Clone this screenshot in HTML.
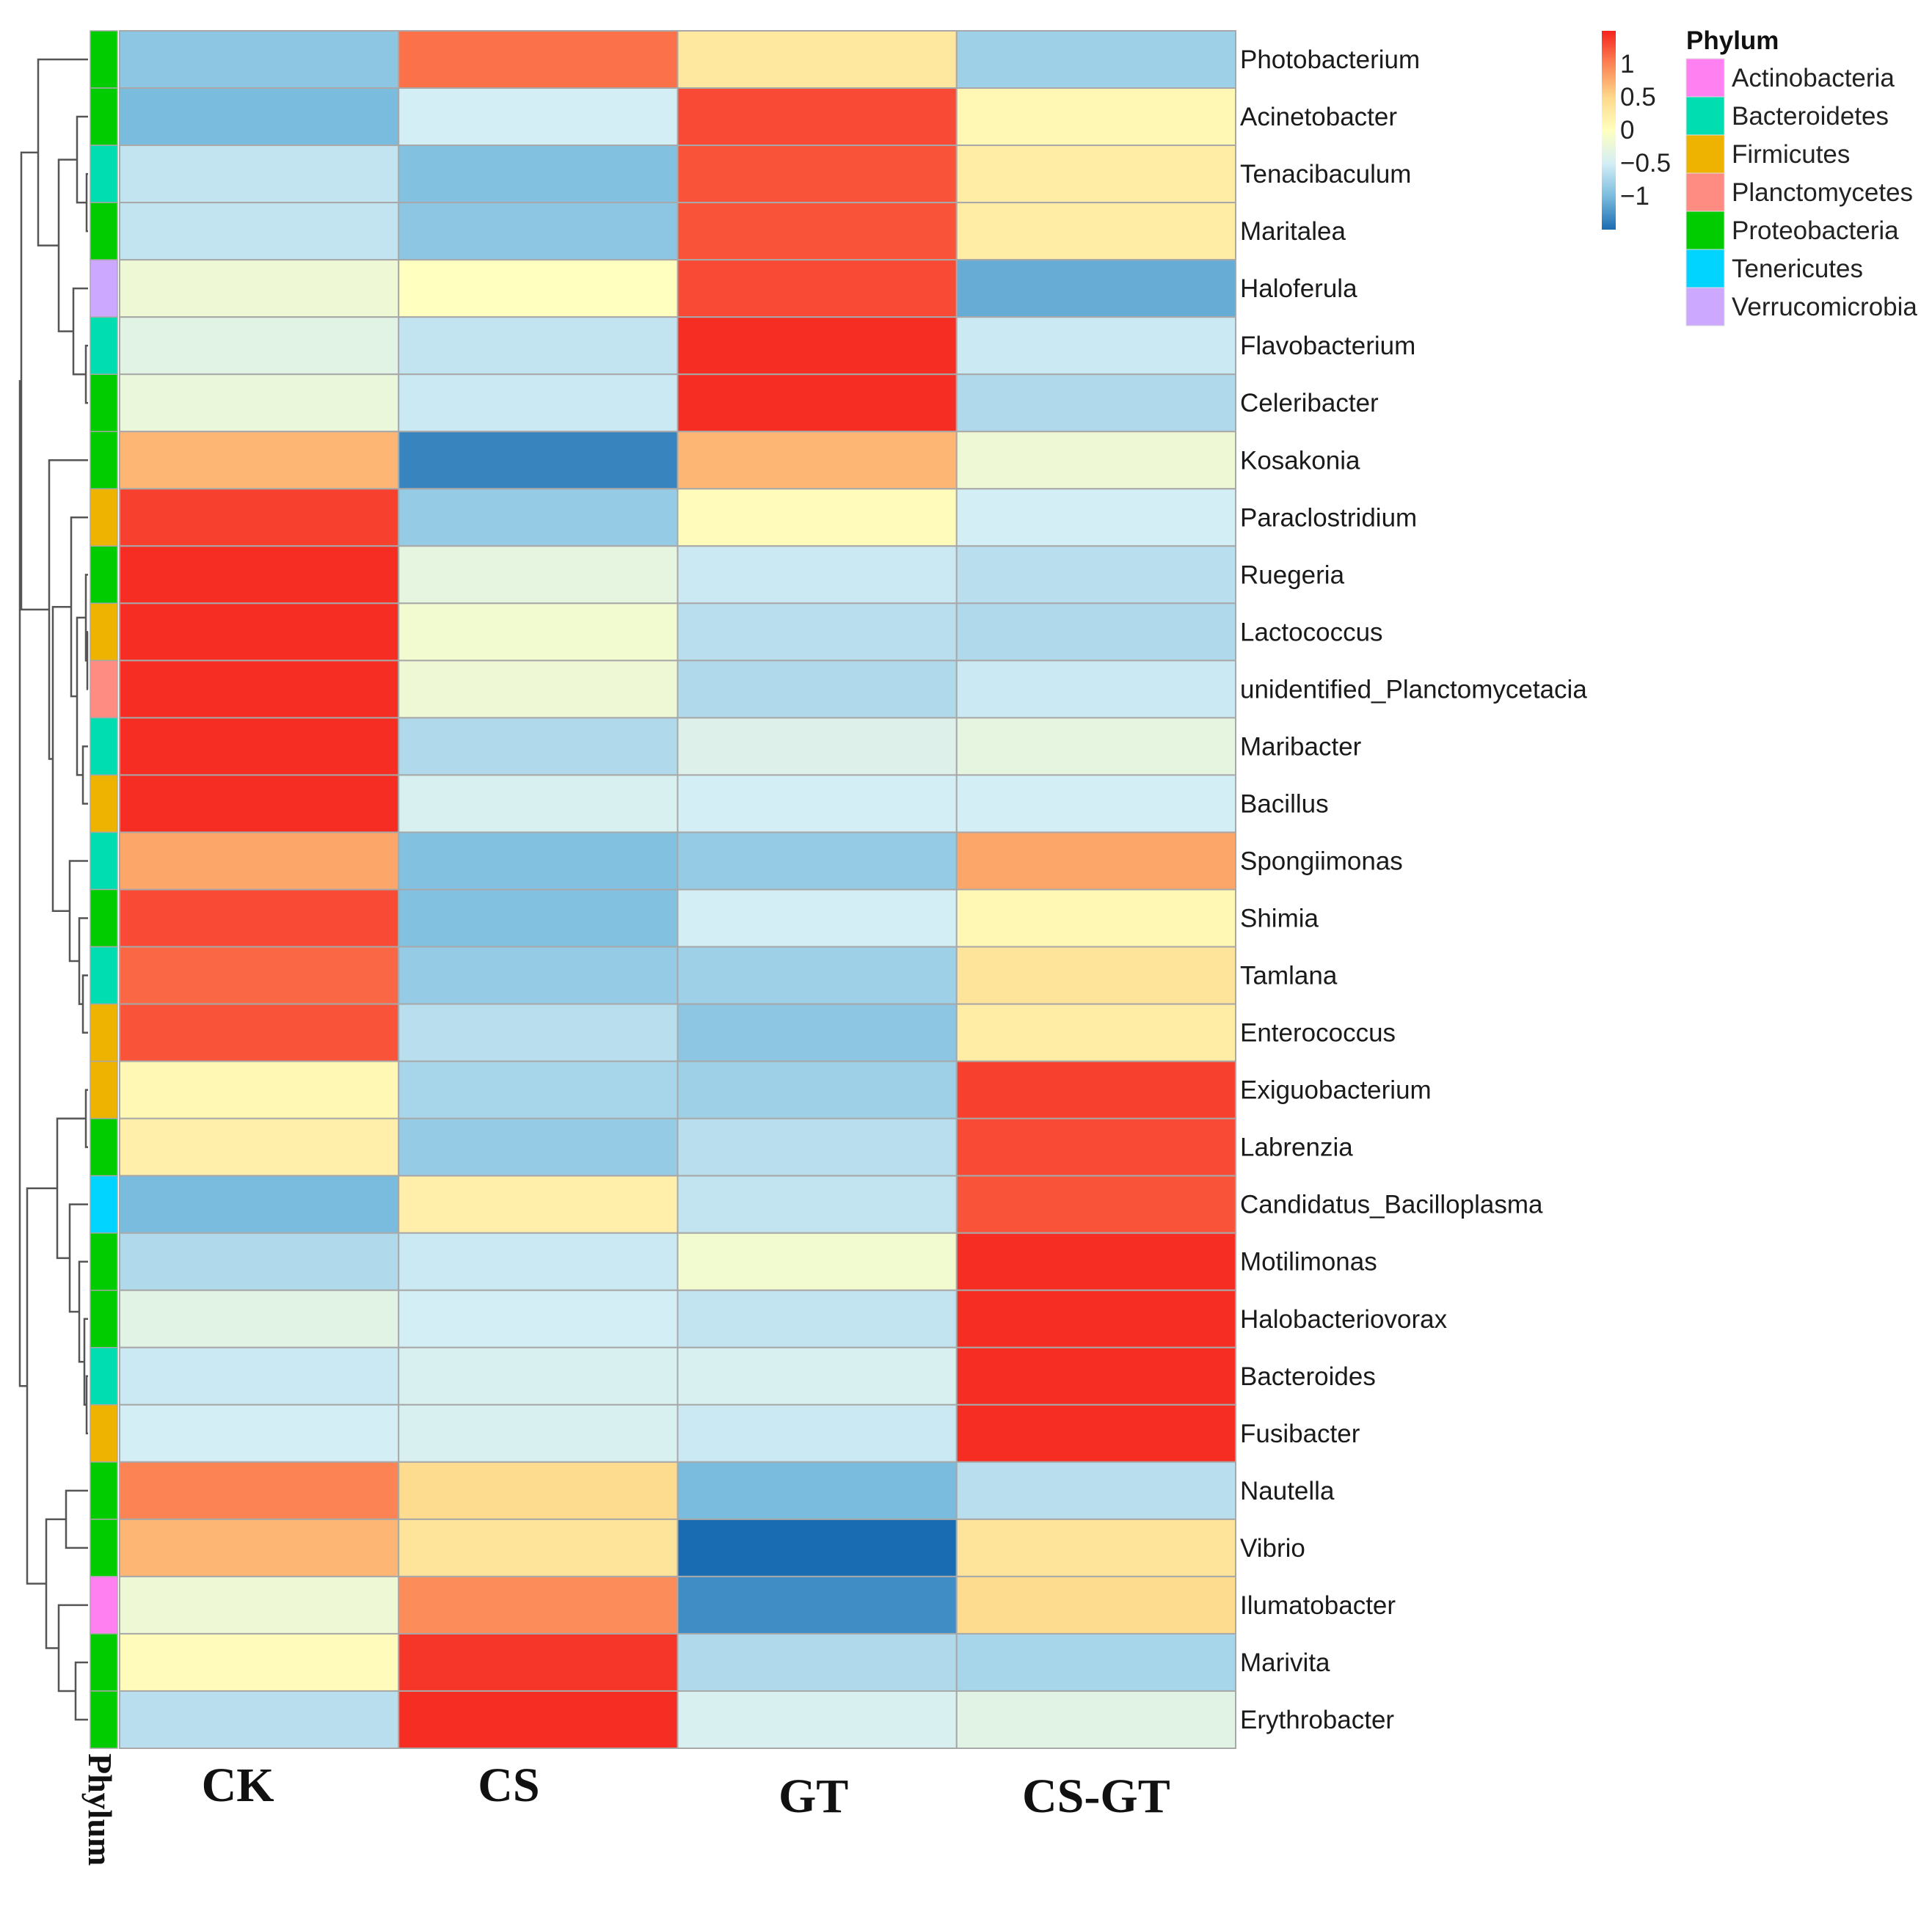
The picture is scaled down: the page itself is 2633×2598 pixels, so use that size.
<!DOCTYPE html>
<html><head><meta charset="utf-8"><style>
html,body{margin:0;padding:0;background:#fff;}
svg{display:block;font-family:"Liberation Sans",sans-serif;}
</style></head><body>
<svg id="chart" xmlns="http://www.w3.org/2000/svg" width="2633" height="2598" viewBox="0 0 2633 2598">
<rect width="2633" height="2598" fill="#fff"/>
<g id="dendro" stroke="#555" stroke-width="2.5" fill="none"></g>
<g id="phy"></g>
<g id="cells"></g>
<g id="rowlabels"></g>
<g id="collabels"></g>
<text transform="translate(121,2390) rotate(90)" font-family="Liberation Serif, serif" font-weight="bold" font-size="46" fill="#111">Phylum</text>
<g id="legend"></g>
</svg>
<script>
const rowNames=["Photobacterium","Acinetobacter","Tenacibaculum","Maritalea","Haloferula","Flavobacterium","Celeribacter","Kosakonia","Paraclostridium","Ruegeria","Lactococcus","unidentified_Planctomycetacia","Maribacter","Bacillus","Spongiimonas","Shimia","Tamlana","Enterococcus","Exiguobacterium","Labrenzia","Candidatus_Bacilloplasma","Motilimonas","Halobacteriovorax","Bacteroides","Fusibacter","Nautella","Vibrio","Ilumatobacter","Marivita","Erythrobacter"];
const colNames=["CK","CS","GT","CS-GT"];
const valCK=[-0.9,-1.0,-0.6,-0.6,-0.2,-0.35,-0.25,0.7,1.35,1.45,1.45,1.45,1.45,1.45,0.8,1.3,1.15,1.25,0.1,0.2,-1.0,-0.7,-0.35,-0.55,-0.5,1.0,0.7,-0.2,0.05,-0.65];
const valCS=[1.1,-0.5,-0.95,-0.9,0.0,-0.6,-0.55,-1.35,-0.85,-0.3,-0.15,-0.2,-0.7,-0.45,-0.95,-0.95,-0.85,-0.65,-0.75,-0.85,0.2,-0.55,-0.5,-0.45,-0.45,0.45,0.35,0.95,1.4,1.45];
const valGT=[0.3,1.3,1.25,1.25,1.3,1.45,1.45,0.7,0.05,-0.55,-0.65,-0.7,-0.4,-0.5,-0.85,-0.5,-0.8,-0.9,-0.8,-0.65,-0.6,-0.15,-0.6,-0.45,-0.55,-1.0,-1.5,-1.3,-0.7,-0.45];
const valCSGT=[-0.8,0.1,0.25,0.25,-1.1,-0.55,-0.7,-0.2,-0.5,-0.65,-0.7,-0.55,-0.3,-0.5,0.8,0.1,0.35,0.25,1.35,1.3,1.25,1.45,1.45,1.45,1.45,-0.65,0.35,0.45,-0.75,-0.35];
const rowPhylum=["Proteobacteria","Proteobacteria","Bacteroidetes","Proteobacteria","Verrucomicrobia","Bacteroidetes","Proteobacteria","Proteobacteria","Firmicutes","Proteobacteria","Firmicutes","Planctomycetes","Bacteroidetes","Firmicutes","Bacteroidetes","Proteobacteria","Bacteroidetes","Firmicutes","Firmicutes","Proteobacteria","Tenericutes","Proteobacteria","Proteobacteria","Bacteroidetes","Firmicutes","Proteobacteria","Proteobacteria","Actinobacteria","Proteobacteria","Proteobacteria"];
const phylumNames=["Actinobacteria","Bacteroidetes","Firmicutes","Planctomycetes","Proteobacteria","Tenericutes","Verrucomicrobia"];
const phylumColors=["#FF80F0","#00DDB0","#EEB200","#FF8C82","#00CC00","#00D4FF","#CCA8FF"];
const colorTicks=[1,0.5,0,-0.5,-1];
const series=[valCK,valCS,valGT,valCSGT];

const NS="http://www.w3.org/2000/svg";
function mk(tag,attrs,parent){const e=document.createElementNS(NS,tag);for(const k in attrs)e.setAttribute(k,attrs[k]);parent.appendChild(e);return e;}
const X0=163,X1=1684,Y0=42,Y1=2383;
const rowH=(Y1-Y0)/rowNames.length, colW=(X1-X0)/colNames.length;
function yRow(i){return Y0+i*rowH;}
function xCol(j){return X0+j*colW;}
const stops=[[-1.5,[26,108,178]],[-1,[122,188,222]],[-0.5,[212,238,245]],[0,[255,255,191]],[0.5,[254,216,138]],[1,[252,132,84]],[1.5,[245,35,30]]];
function color(v){v=Math.max(-1.5,Math.min(1.5,v));for(let i=0;i<stops.length-1;i++){const a=stops[i],b=stops[i+1];if(v<=b[0]){const t=(v-a[0])/(b[0]-a[0]);const c=a[1].map((x,k)=>Math.round(x+(b[1][k]-x)*t));return `rgb(${c})`;}}return "rgb(245,35,30)";}

const cells=document.getElementById('cells');
series.forEach((s,j)=>s.forEach((v,i)=>{
  const r=mk('rect',{x:xCol(j),y:yRow(i),width:colW,height:rowH,fill:color(v),stroke:'#a8a8a8','stroke-width':2},cells);
  
  
}));
const phy=document.getElementById('phy');
rowPhylum.forEach((p,i)=>{
  const r=mk('rect',{x:123,y:yRow(i),width:37,height:rowH,fill:phylumColors[phylumNames.indexOf(p)],stroke:'#a8a8a8','stroke-width':1.5},phy);
  
  
});
const rl=document.getElementById('rowlabels');
rowNames.forEach((n,i)=>{
  const t=mk('text',{x:1690,y:yRow(i)+rowH/2+12,'font-size':35,fill:'#1a1a1a'},rl);t.textContent=n;
  
  
});
const cl=document.getElementById('collabels');
const colLabelY=[2455,2455,2470,2470];
const colLabelShift=[29,40,5,0];
colNames.forEach((n,j)=>{
  const t=mk('text',{x:xCol(j)+colW/2-colLabelShift[j],y:colLabelY[j],'font-size':66,'font-weight':'bold','font-family':'Liberation Serif, serif','text-anchor':'middle',fill:'#111'},cl);t.textContent=n;
  
  
});
const leafX=120;
function leaf(i){return {x:leafX,y:yRow(i)+rowH/2};}
function node(a,b,x){const g=document.getElementById('dendro');
  mk('path',{d:`M${a.x},${a.y}H${x}V${b.y}H${b.x}`},g);return {x:x,y:(a.y+b.y)/2};}
const L=leaf;
const A=node(L(0),node(node(L(1),node(L(2),L(3),118),105),node(L(4),node(L(5),L(6),117),100),80),52);
const B=node(L(7),node(node(L(8),node(node(L(9),node(L(10),L(11),119),117),node(L(12),L(13),113),105),97),node(L(14),node(L(15),node(L(16),L(17),113),108),95),72),67);
const C=node(node(node(L(18),L(19),117),node(L(20),node(L(21),node(L(22),node(L(23),L(24),118),115),108),95),78),node(node(L(25),L(26),90),node(L(27),node(L(28),L(29),103),80),63),37);
const AB=node(A,B,29);
node(AB,C,27);
const lg=document.getElementById('legend');
const defs=mk('defs',{},lg);
const grad=mk('linearGradient',{id:'cb',x1:0,y1:1,x2:0,y2:0},defs);
stops.forEach(s=>mk('stop',{offset:((s[0]+1.5)/3*100)+'%','stop-color':color(s[0])},grad));
const cb=mk('rect',{x:2183,y:42,width:19,height:271,fill:'url(#cb)'},lg);


colorTicks.forEach(v=>{
  const t=mk('text',{x:2208,y:177-v*90+12,'font-size':35,fill:'#222'},lg);t.textContent=v<0?'\u2212'+Math.abs(v):String(v);
  
  
});
const tt=mk('text',{x:2298,y:67,'font-size':35,'font-weight':'bold',fill:'#111'},lg);tt.textContent='Phylum';


phylumNames.forEach((p,k)=>{
  const r=mk('rect',{x:2298,y:80+k*52,width:52,height:52,fill:phylumColors[k],stroke:'#ddd','stroke-width':1},lg);
  
  
  const t=mk('text',{x:2360,y:80+k*52+38,'font-size':35,fill:'#222'},lg);t.textContent=p;
  
  
});
</script>
</body></html>
